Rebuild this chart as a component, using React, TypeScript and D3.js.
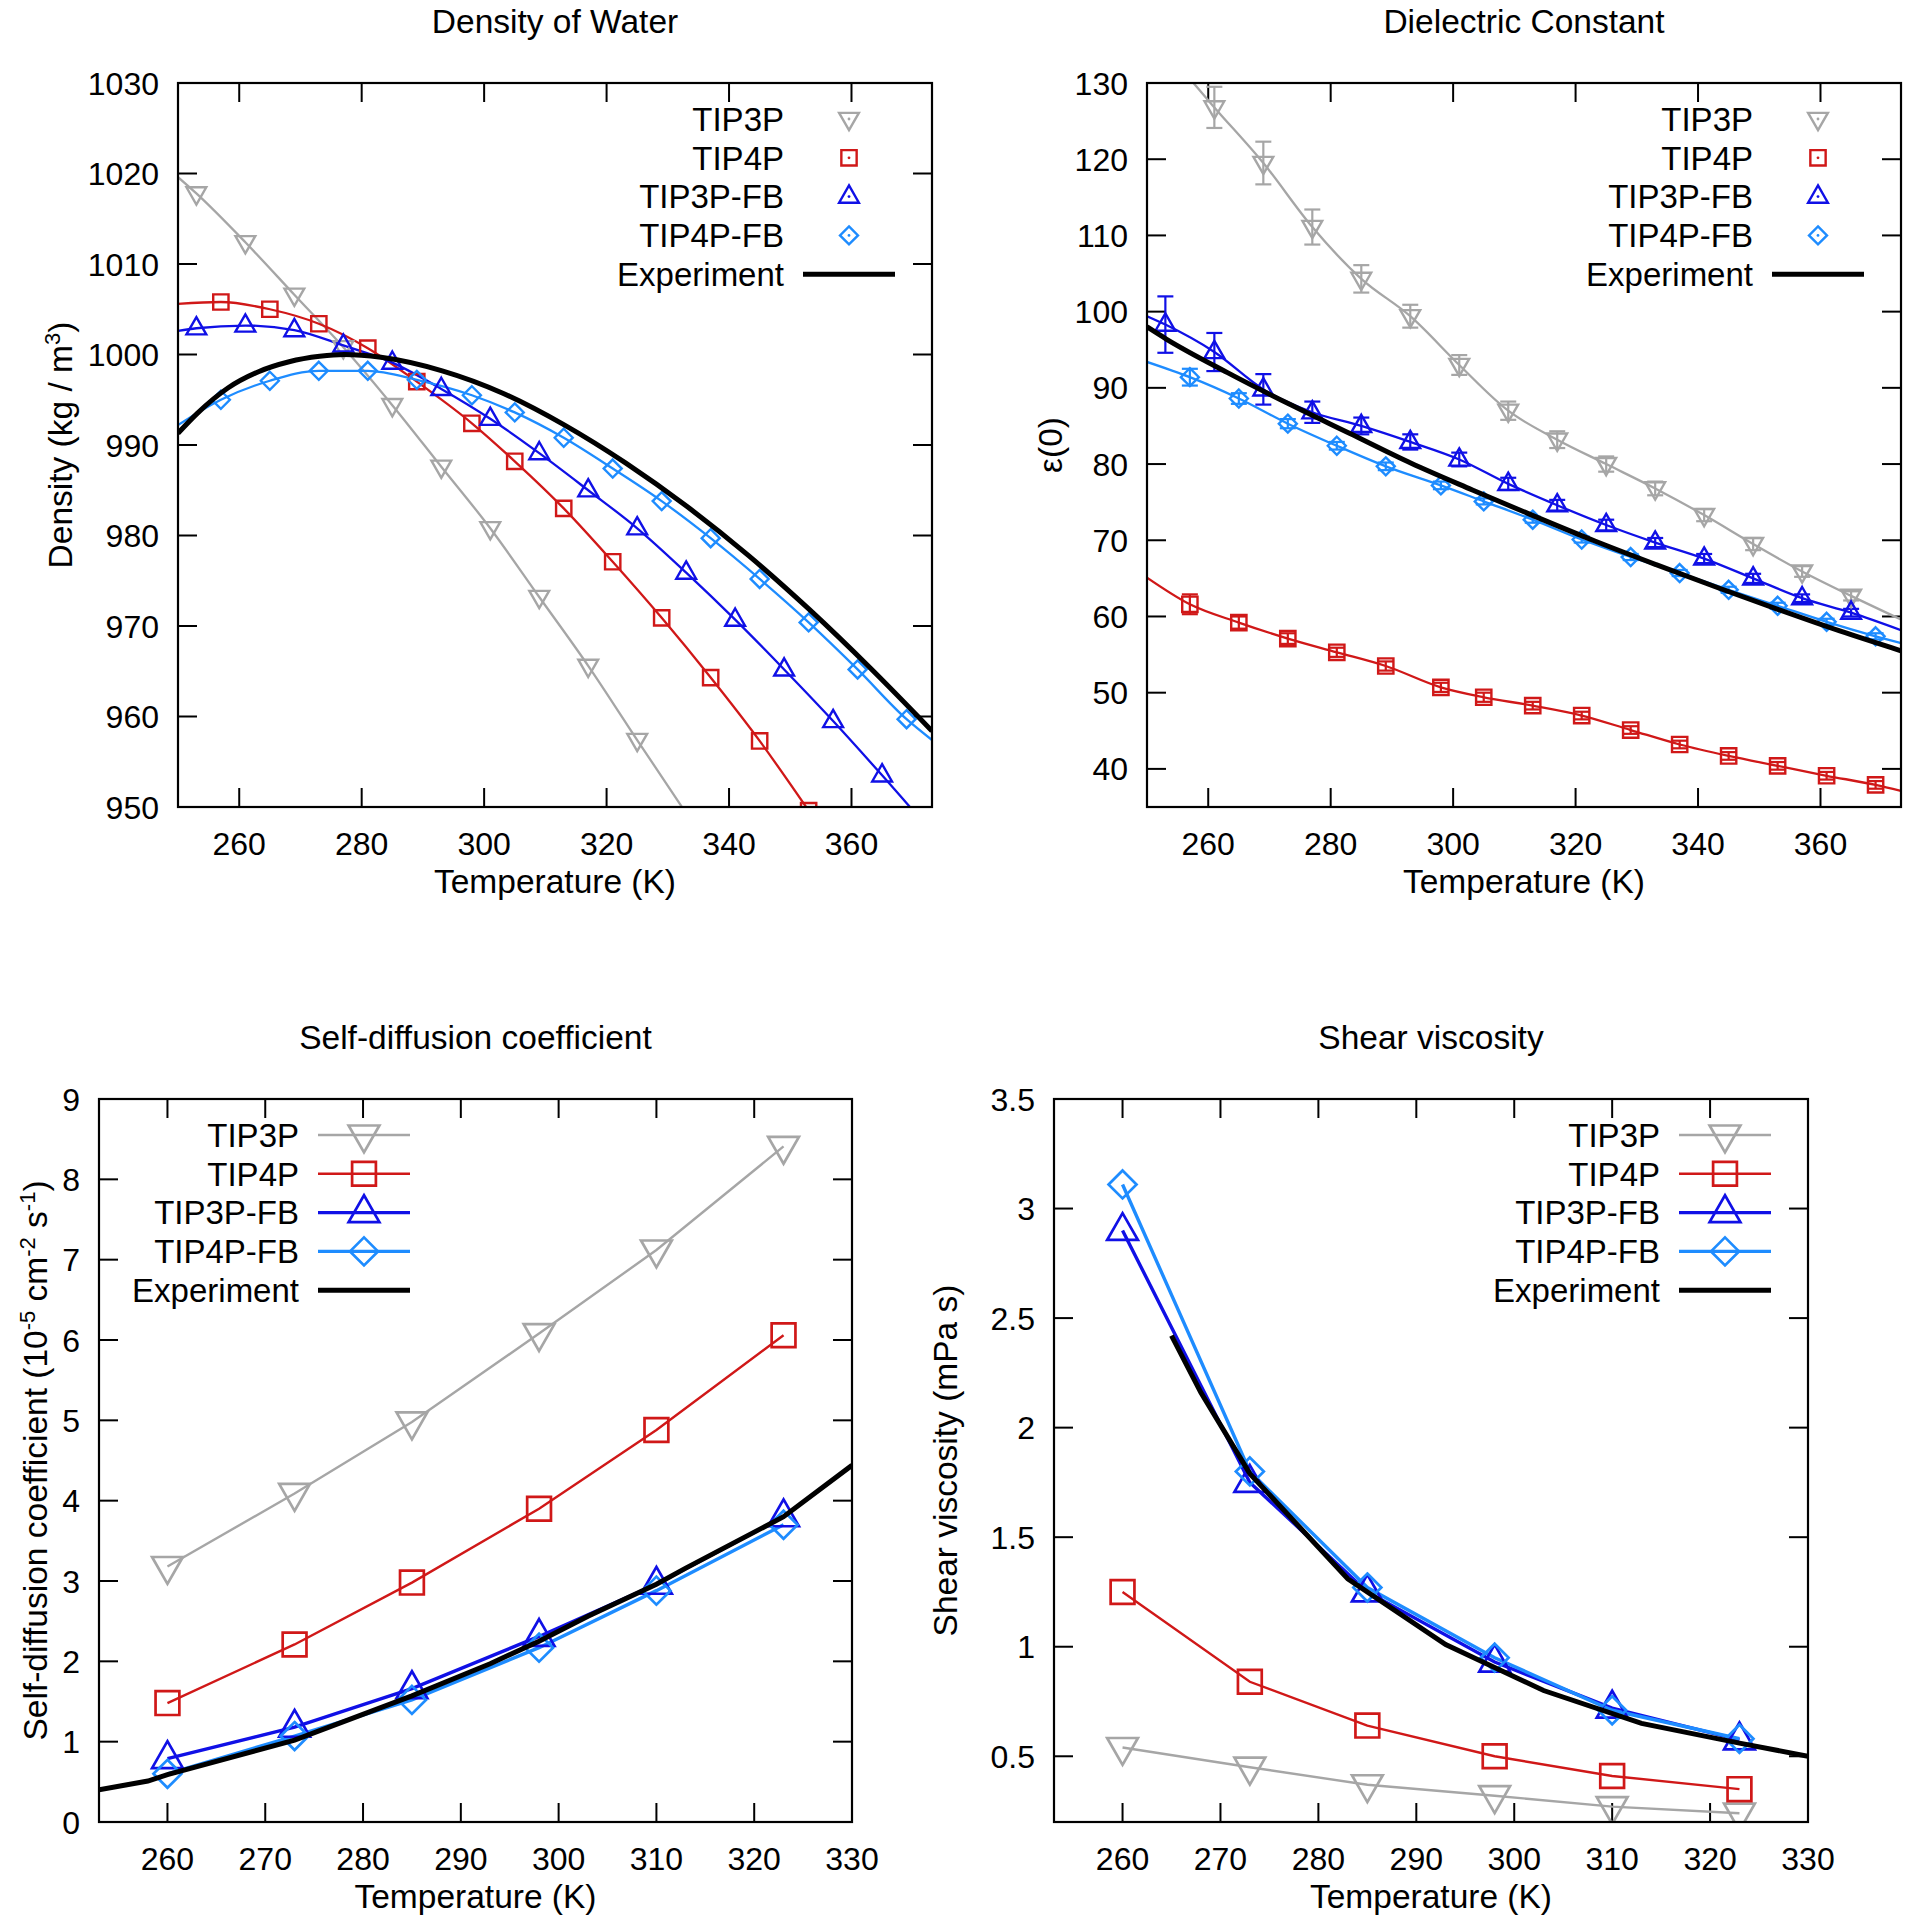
import React from "react";
import * as d3 from "d3";

type Pt = [number, number];
type Shape = "tdown" | "square" | "tup" | "diamond";

const GRAY = "#a6a6a6";
const RED = "#d01818";
const BLUE = "#1010e6";
const LBLUE = "#1e8cff";
const FONT = "'Liberation Sans', Arial, Helvetica, sans-serif";

// simulation temperatures (K)
const tempsA = [253, 261, 269, 277, 285, 293, 301, 309, 317, 325, 333, 341, 349, 357, 365];
const tempsB = [257, 265, 273, 281, 289, 298, 305, 313, 321, 329, 337, 345, 353, 361, 369];
const tempsC = [260, 273, 285, 298, 310, 323];

// density (kg/m3)
const densTip3p = [1017.8, 1012.4, 1006.6, 1000.8, 994.4, 987.6, 980.8, 973.2, 965.6, 957.4, 949.3];
const densTip4p = [1005.8, 1005.0, 1003.4, 1000.7, 997.0, 992.4, 988.2, 983.0, 977.1, 970.9, 964.3, 957.3, 949.6];
const densTip3pfb = [1002.9, 1003.2, 1002.7, 1001.0, 999.1, 996.2, 992.9, 989.1, 985.0, 980.8, 975.9, 970.7, 965.2, 959.5, 953.5];
const densTip4pfb = [995.0, 997.1, 998.2, 998.2, 997.2, 995.5, 993.6, 990.8, 987.4, 983.8, 979.7, 975.2, 970.4, 965.2, 959.7];
// fitted curves at the frame edges
const densEdges: Record<string, Pt[]> = {
  tip3p: [[250, 1019.6]],
  tip4p: [[250, 1005.6]],
  tip3pfb: [[250, 1002.6], [373.15, 947.2]],
  tip4pfb: [[250, 992.2], [373.15, 957.4]],
};
const densExpT = [250, 253.15, 258.15, 263.15, 268.15, 273.15, 277.15, 283.15, 293.15, 303.15, 313.15, 323.15, 333.15, 343.15, 353.15, 363.15, 373.15];
const densExp = [991.3, 993.5, 996.3, 998.1, 999.2, 999.8, 1000.0, 999.7, 998.2, 995.7, 992.2, 988.0, 983.2, 977.8, 971.8, 965.3, 958.4];

// static dielectric constant
const dielTip3p = [126.8, 119.5, 111.1, 104.3, 99.4, 93.0, 87.0, 83.2, 80.0, 76.8, 73.3, 69.5, 65.9, 62.7];
const dielTip3pErr = [2.7, 2.8, 2.3, 1.8, 1.5, 1.3, 1.2, 1.1, 1.0, 0.9, 0.8, 0.8, 0.7, 0.6];
const dielTip4p = [61.6, 59.2, 57.1, 55.3, 53.5, 50.7, 49.4, 48.3, 47.0, 45.1, 43.2, 41.7, 40.4, 39.1, 37.9];
const dielTip4pErr = [1.3, 0.8, 0.7, 0.6, 0.6, 0.6, 0.6, 0.5, 0.5, 0.5, 0.5, 0.5, 0.5, 0.5, 0.5];
const dielTip3pfb = [98.3, 94.7, 89.8, 86.8, 85.0, 82.9, 80.6, 77.4, 74.6, 72.0, 69.7, 67.6, 65.0, 62.4, 60.5];
const dielTip3pfbErr = [3.7, 2.5, 2.0, 1.4, 1.1, 1.0, 0.9, 0.8, 0.7, 0.7, 0.6, 0.6, 0.6, 0.5, 0.5];
const dielTip4pfb = [91.4, 88.6, 85.3, 82.4, 79.7, 77.2, 75.1, 72.7, 70.1, 67.8, 65.7, 63.5, 61.4, 59.3, 57.4];
const dielTip4pfbErr = [1.1, 0.7, 0.6, 0.5, 0.5, 0.5, 0.4, 0.4, 0.4, 0.4, 0.4, 0.4, 0.4, 0.4, 0.4];
const dielEdges: Record<string, Pt[]> = {
  tip3p: [[253, 134.3], [373.15, 59.6]],
  tip4p: [[250, 65.1], [373.15, 37.1]],
  tip3pfb: [[250, 99.4], [373.15, 58.2]],
  tip4pfb: [[250, 93.4], [373.15, 56.5]],
};
const dielExpT = [250, 253.15, 263.15, 273.15, 283.15, 293.15, 303.15, 313.15, 323.15, 333.15, 343.15, 353.15, 363.15, 373.15];
const dielExp = [98.0, 96.4, 92.0, 87.9, 84.0, 80.1, 76.6, 73.2, 69.9, 66.8, 63.8, 60.9, 58.1, 55.5];

// self-diffusion (1e-5 cm2/s)
const diffTip3p = [3.18, 4.09, 4.98, 6.08, 7.12, 8.41];
const diffTip4p = [1.48, 2.21, 2.98, 3.90, 4.88, 6.06];
const diffTip3pfb = [0.79, 1.18, 1.66, 2.31, 2.96, 3.80];
const diffTip4pfb = [0.60, 1.07, 1.52, 2.17, 2.88, 3.70];
const diffExpT = [253, 258, 260, 273, 285, 293, 298, 303, 310, 313, 323, 330];
const diffExp = [0.40, 0.51, 0.59, 1.02, 1.57, 1.97, 2.25, 2.56, 2.96, 3.16, 3.80, 4.44];

// shear viscosity (mPa s)
const viscTip3p = [0.54, 0.45, 0.37, 0.32, 0.27, 0.24];
const viscTip4p = [1.25, 0.84, 0.64, 0.50, 0.41, 0.35];
const viscTip3pfb = [2.90, 1.75, 1.25, 0.93, 0.72, 0.575];
const viscTip4pfb = [3.11, 1.80, 1.27, 0.95, 0.71, 0.58];
const viscExpT = [265, 268, 273, 283, 293, 303, 313, 323, 330];
const viscExp = [2.42, 2.16, 1.79, 1.31, 1.01, 0.80, 0.65, 0.56, 0.50];

const names = ["TIP3P", "TIP4P", "TIP3P-FB", "TIP4P-FB"];
const colors = [GRAY, RED, BLUE, LBLUE];
const shapes: Shape[] = ["tdown", "square", "tup", "diamond"];

const zipPts = (t: number[], v: number[]): Pt[] => v.map((d, i) => [t[i], d] as Pt);

interface Series {
  name: string;
  color: string;
  shape: Shape;
  pts: Pt[];
  line: Pt[];
  err?: number[];
  lw: number;
}

function markerPath(shape: Shape, s: number): string {
  const h = s / 2;
  if (shape === "square") return `M${-h * 0.85},${-h * 0.85}H${h * 0.85}V${h * 0.85}H${-h * 0.85}Z`;
  if (shape === "diamond") return `M0,${-h}L${h},0L0,${h}L${-h},0Z`;
  if (shape === "tup") return `M0,${-s * 0.62}L${s * 0.55},${s * 0.34}L${-s * 0.55},${s * 0.34}Z`;
  return `M0,${s * 0.62}L${s * 0.55},${-s * 0.34}L${-s * 0.55},${-s * 0.34}Z`;
}

interface PanelProps {
  id: string;
  box: { l: number; r: number; t: number; b: number };
  xDomain: [number, number];
  yDomain: [number, number];
  xTicks: number[];
  yTicks: number[];
  yFmt: (v: number) => string;
  title: string;
  yLabel: React.ReactNode;
  yLabelX: number;
  series: Series[];
  exp: Pt[];
  smooth: boolean;
  msize: number;
  mstroke: number;
  legendLeft: boolean;
  legendLines: boolean;
  dot: boolean;
}

function Panel(p: PanelProps) {
  const { box } = p;
  const x = d3.scaleLinear().domain(p.xDomain).range([box.l, box.r]);
  const y = d3.scaleLinear().domain(p.yDomain).range([box.b, box.t]);
  const gen = d3
    .line<Pt>()
    .x((d) => x(d[0]))
    .y((d) => y(d[1]))
    .curve(p.smooth ? d3.curveMonotoneX : d3.curveLinear);
  const tl = 19;
  const fs = 32;
  const fsl = 33.5;
  const legendRows = [...p.series.map((s) => s.name), "Experiment"];
  const textEnd = p.legendLeft ? box.l + 200 : box.r - 148;
  const sampleA = textEnd + 19;
  const sampleB = textEnd + 111;
  const sampleMid = (sampleA + sampleB) / 2;
  const rowY = (i: number) => box.t + 36 + i * 38.8;

  return (
    <g>
      <defs>
        <clipPath id={p.id}>
          <rect x={box.l} y={box.t} width={box.r - box.l} height={box.b - box.t} />
        </clipPath>
      </defs>
      <text x={(box.l + box.r) / 2} y={box.t - 50} textAnchor="middle" fontSize={fsl}>
        {p.title}
      </text>
      {/* ticks */}
      <g stroke="#000" strokeWidth={2}>
        {p.xTicks.map((t) => (
          <g key={"x" + t}>
            <line x1={x(t)} x2={x(t)} y1={box.b} y2={box.b - tl} />
            <line x1={x(t)} x2={x(t)} y1={box.t} y2={box.t + tl} />
          </g>
        ))}
        {p.yTicks.map((t) => (
          <g key={"y" + t}>
            <line x1={box.l} x2={box.l + tl} y1={y(t)} y2={y(t)} />
            <line x1={box.r} x2={box.r - tl} y1={y(t)} y2={y(t)} />
          </g>
        ))}
      </g>
      {p.xTicks.map((t) => (
        <text key={"xl" + t} x={x(t)} y={box.b + 48} textAnchor="middle" fontSize={fs}>
          {t}
        </text>
      ))}
      {p.yTicks.map((t) => (
        <text key={"yl" + t} x={box.l - 19} y={y(t)} dy="0.36em" textAnchor="end" fontSize={fs}>
          {p.yFmt(t)}
        </text>
      ))}
      <text x={(box.l + box.r) / 2} y={box.b + 86} textAnchor="middle" fontSize={fsl}>
        Temperature (K)
      </text>
      <text
        transform={`translate(${p.yLabelX},${(box.t + box.b) / 2}) rotate(-90)`}
        textAnchor="middle"
        dy="0.36em"
        fontSize={fsl}
      >
        {p.yLabel}
      </text>

      {/* data */}
      <g clipPath={`url(#${p.id})`}>
        {p.series.map((s) => (
          <path key={"l" + s.name} d={gen(s.line) || ""} fill="none" stroke={s.color} strokeWidth={s.lw} />
        ))}
        {p.series.map((s) =>
          s.err
            ? s.pts.map((d, i) => {
                const cx = x(d[0]);
                const y0 = y(d[1] - s.err![i]);
                const y1 = y(d[1] + s.err![i]);
                return (
                  <g key={"e" + s.name + i} stroke={s.color} strokeWidth={2.2}>
                    <line x1={cx} x2={cx} y1={y0} y2={y1} />
                    <line x1={cx - 8} x2={cx + 8} y1={y0} y2={y0} />
                    <line x1={cx - 8} x2={cx + 8} y1={y1} y2={y1} />
                  </g>
                );
              })
            : null
        )}
        {p.series.map((s) =>
          s.pts.map((d, i) => (
            <path
              key={"m" + s.name + i}
              d={markerPath(s.shape, p.msize)}
              transform={`translate(${x(d[0])},${y(d[1])})`}
              fill="none"
              stroke={s.color}
              strokeWidth={p.mstroke}
            />
          ))
        )}
        <path d={gen(p.exp) || ""} fill="none" stroke="#000" strokeWidth={5} />
      </g>

      {/* legend */}
      {legendRows.map((name, i) => (
        <text key={"lg" + name} x={textEnd} y={rowY(i)} dy="0.36em" textAnchor="end" fontSize={33}>
          {name}
        </text>
      ))}
      {p.series.map((s, i) => (
        <g key={"ls" + s.name}>
          {p.legendLines && (
            <line x1={sampleA} x2={sampleB} y1={rowY(i)} y2={rowY(i)} stroke={s.color} strokeWidth={s.lw} />
          )}
          <path
            d={markerPath(s.shape, p.msize)}
            transform={`translate(${sampleMid},${rowY(i)})`}
            fill="none"
            stroke={s.color}
            strokeWidth={p.mstroke}
          />
          {p.dot && <circle cx={sampleMid} cy={rowY(i)} r={1.4} fill={s.color} />}
        </g>
      ))}
      <line x1={sampleA} x2={sampleB} y1={rowY(4)} y2={rowY(4)} stroke="#000" strokeWidth={5} />

      <rect
        x={box.l}
        y={box.t}
        width={box.r - box.l}
        height={box.b - box.t}
        fill="none"
        stroke="#000"
        strokeWidth={2.2}
      />
    </g>
  );
}

function topSeries(vals: number[][], temps: number[][], edges: Record<string, Pt[]>, errs?: number[][]): Series[] {
  const keys = ["tip3p", "tip4p", "tip3pfb", "tip4pfb"];
  return vals.map((v, i) => {
    const pts = zipPts(temps[i], v);
    const e = edges[keys[i]];
    const line = [...e.filter((d) => d[0] < pts[0][0]), ...pts, ...e.filter((d) => d[0] > pts[pts.length - 1][0])];
    return { name: names[i], color: colors[i], shape: shapes[i], pts, line, err: errs ? errs[i] : undefined, lw: 2.3 };
  });
}

function bottomSeries(vals: number[][]): Series[] {
  return vals.map((v, i) => {
    const pts = zipPts(tempsC, v);
    return { name: names[i], color: colors[i], shape: shapes[i], pts, line: pts, lw: i < 2 ? 2.4 : 3.4 };
  });
}

export default function App() {
  const densSeries = topSeries(
    [densTip3p, densTip4p, densTip3pfb, densTip4pfb],
    [tempsA, tempsB, tempsA, tempsB],
    densEdges
  );
  const dielSeries = topSeries(
    [dielTip3p, dielTip4p, dielTip3pfb, dielTip4pfb],
    [tempsA.slice(1), tempsB, tempsA, tempsB],
    dielEdges,
    [dielTip3pErr, dielTip4pErr, dielTip3pfbErr, dielTip4pfbErr]
  );
  const diffSeries = bottomSeries([diffTip3p, diffTip4p, diffTip3pfb, diffTip4pfb]);
  const viscSeries = bottomSeries([viscTip3p, viscTip4p, viscTip3pfb, viscTip4pfb]);

  const topX: [number, number] = [250, 373.15];
  const botX: [number, number] = [253, 330];
  const topXTicks = d3.range(260, 361, 20);
  const botXTicks = d3.range(260, 331, 10);

  return (
    <svg
      width={1907}
      height={1920}
      style={{ position: "absolute", left: 0, top: 0, background: "#fff" }}
      fontFamily={FONT}
    >
      <rect width={1907} height={1920} fill="#fff" />
      <Panel
        id="c1"
        box={{ l: 178, r: 932, t: 83, b: 807 }}
        xDomain={topX}
        yDomain={[950, 1030]}
        xTicks={topXTicks}
        yTicks={d3.range(950, 1031, 10)}
        yFmt={(v) => String(v)}
        title="Density of Water"
        yLabel={
          <>
            Density (kg / m<tspan dy={-12} fontSize={22}>3</tspan>
            <tspan dy={12}>)</tspan>
          </>
        }
        yLabelX={60}
        series={densSeries}
        exp={zipPts(densExpT, densExp)}
        smooth={true}
        msize={18}
        mstroke={2.4}
        legendLeft={false}
        legendLines={false}
        dot={true}
      />
      <Panel
        id="c2"
        box={{ l: 1147, r: 1901, t: 83, b: 807 }}
        xDomain={topX}
        yDomain={[35, 130]}
        xTicks={topXTicks}
        yTicks={d3.range(40, 131, 10)}
        yFmt={(v) => String(v)}
        title="Dielectric Constant"
        yLabel="ε(0)"
        yLabelX={1050}
        series={dielSeries}
        exp={zipPts(dielExpT, dielExp)}
        smooth={true}
        msize={18}
        mstroke={2.4}
        legendLeft={false}
        legendLines={false}
        dot={true}
      />
      <Panel
        id="c3"
        box={{ l: 99, r: 852, t: 1099, b: 1822 }}
        xDomain={botX}
        yDomain={[0, 9]}
        xTicks={botXTicks}
        yTicks={d3.range(0, 10, 1)}
        yFmt={(v) => String(v)}
        title="Self-diffusion coefficient"
        yLabel={
          <>
            Self-diffusion coefficient (10<tspan dy={-12} fontSize={22}>-5</tspan>
            <tspan dy={12}> cm</tspan>
            <tspan dy={-12} fontSize={22}>-2</tspan>
            <tspan dy={12}> s</tspan>
            <tspan dy={-12} fontSize={22}>-1</tspan>
            <tspan dy={12}>)</tspan>
          </>
        }
        yLabelX={35}
        series={diffSeries}
        exp={zipPts(diffExpT, diffExp)}
        smooth={false}
        msize={28}
        mstroke={2.7}
        legendLeft={true}
        legendLines={true}
        dot={false}
      />
      <Panel
        id="c4"
        box={{ l: 1054, r: 1808, t: 1099, b: 1822 }}
        xDomain={botX}
        yDomain={[0.2, 3.5]}
        xTicks={botXTicks}
        yTicks={d3.range(0.5, 3.51, 0.5)}
        yFmt={(v) => d3.format("~g")(v)}
        title="Shear viscosity"
        yLabel="Shear viscosity (mPa s)"
        yLabelX={945}
        series={viscSeries}
        exp={zipPts(viscExpT, viscExp)}
        smooth={false}
        msize={28}
        mstroke={2.7}
        legendLeft={false}
        legendLines={true}
        dot={false}
      />
    </svg>
  );
}
